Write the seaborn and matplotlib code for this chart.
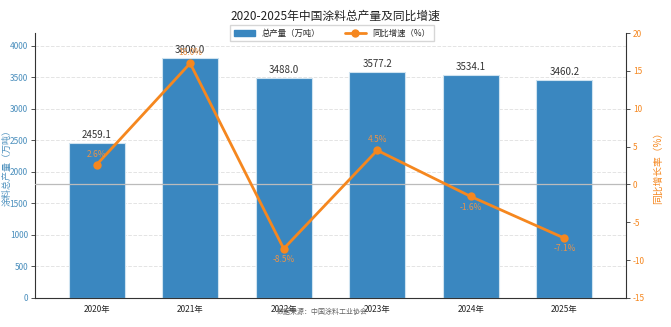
import numpy as np
import pandas as pd
import matplotlib
matplotlib.use("Agg")
import matplotlib.pyplot as plt
import seaborn as sns
from matplotlib.patches import Patch
from matplotlib.lines import Line2D

years = ["2020年", "2021年", "2022年", "2023年", "2024年", "2025年"]
output = [2459.1, 3800.0, 3488.0, 3577.2, 3534.1, 3460.2]
growth = [2.6, 16.0, -8.5, 4.5, -1.6, -7.1]

sns.set_style("white")
plt.rcParams['font.family'] = ['Noto Sans CJK SC', 'DejaVu Sans']
plt.rcParams['axes.unicode_minus'] = False

bar_color = "#3a87c0"
line_color = "#f5871f"
left_color = "#4b8fbd"

df = pd.DataFrame({"year": years, "output": output, "growth": growth})

fig = plt.figure(figsize=(6.71, 3.27), dpi=100)
ax = fig.add_axes([0.052, 0.089, 0.881, 0.81])

sns.barplot(data=df, x="year", y="output", ax=ax, color=bar_color, width=0.6,
            edgecolor="#cfe3f0", linewidth=0.8, saturation=1, zorder=2)
ax.set_ylim(0, 4200)
ax.set_xlim(-0.66, 5.66)
ax.set_yticks(np.arange(0, 4001, 500))
ax.yaxis.grid(True, linestyle="--", color="#e4e4e4", linewidth=0.7, zorder=0)
ax.set_axisbelow(True)
ax.set_xlabel("")
ax.set_ylabel("涂料总产量（万吨）", color=left_color, fontsize=6.5)
ax.yaxis.set_label_coords(-0.04, 0.5)
ax.tick_params(axis="y", labelcolor=left_color, labelsize=6, length=3, width=0.6,
               color="#333333", pad=2)
ax.tick_params(axis="x", labelsize=6, length=3, width=0.6, color="#333333", pad=2)
for s in ["left", "bottom"]:
    ax.spines[s].set_color("#333333")
    ax.spines[s].set_linewidth(0.8)
ax.spines["top"].set_visible(False)
ax.spines["right"].set_visible(False)

for i, v in enumerate(output):
    ax.text(i, v + 50, f"{v:.1f}", ha="center", va="bottom", fontsize=7, color="#333333", zorder=5)

ax2 = ax.twinx()
ax2.axhline(0, color="#bbbbbb", linewidth=0.9, zorder=1)
sns.lineplot(x=np.arange(len(years)), y=growth, ax=ax2, color=line_color, marker="o",
             markersize=6, markeredgewidth=0, linewidth=2, zorder=4)
ax2.set_ylim(-15, 20)
ax2.set_yticks(np.arange(-15, 21, 5))
ax2.set_ylabel("同比增长率（%）", color=line_color, fontsize=7, labelpad=6)
ax2.tick_params(axis="y", labelcolor=line_color, labelsize=6, length=3, width=0.6,
                color="#333333", pad=2)
ax2.spines["right"].set_color("#333333")
ax2.spines["right"].set_linewidth(0.8)
for s in ["top", "left", "bottom"]:
    ax2.spines[s].set_visible(False)

for i, g in enumerate(growth):
    if g >= 0:
        ax2.text(i, g + 0.8, f"{g:.1f}%", ha="center", va="bottom", fontsize=6, color="#e8934a", zorder=6)
    else:
        ax2.text(i, g - 0.8, f"{g:.1f}%", ha="center", va="top", fontsize=6, color="#e8934a", zorder=6)

handles = [Patch(facecolor=bar_color, edgecolor=bar_color),
           Line2D([0], [0], color=line_color, marker="o", markersize=5, linewidth=2)]
fig.legend(handles, ["总产量（万吨）", "同比增速（%）"], loc="upper center",
           bbox_to_anchor=(0.495, 0.935), ncol=2, fontsize=6, frameon=True,
           edgecolor="#cccccc", fancybox=False, handlelength=2.5, columnspacing=3,
           borderpad=0.4)

fig.suptitle("2020-2025年中国涂料总产量及同比增速", x=0.5, y=0.97, fontsize=8.5, color="#222222")
fig.text(0.48, 0.045, "数据来源：中国涂料工业协会", ha="center", va="center", fontsize=5, color="#666666")

fig.savefig("out.png", dpi=100)
